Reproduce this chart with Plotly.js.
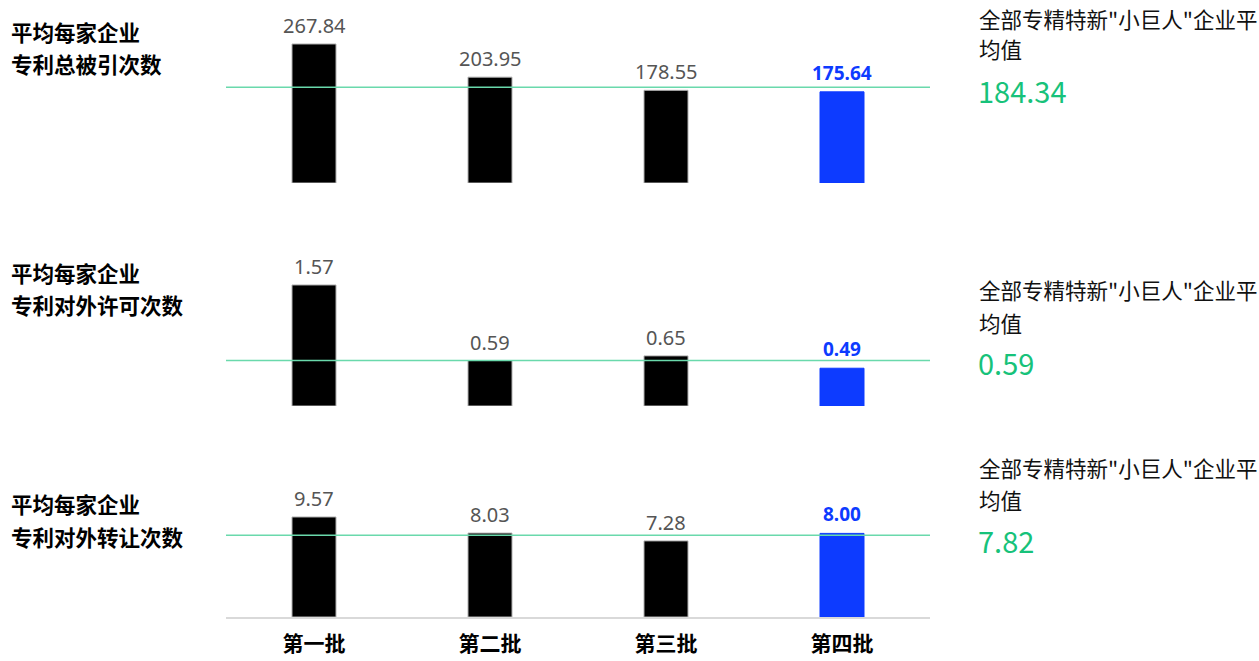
<!DOCTYPE html>
<html>
<head>
<meta charset="utf-8">
<script src="https://cdn.plot.ly/plotly-3.0.1.min.js"></script>
<style>html,body{margin:0;padding:0;background:#fff;}#chart{width:1259px;height:661px;}</style>
</head>
<body>
<div id="chart"></div>
<script>
const categories = ['第一批', '第二批', '第三批', '第四批'];
const citations = [267.84, 203.95, 178.55, 175.64];
const licenses = [1.57, 0.59, 0.65, 0.49];
const transfers = [9.57, 8.03, 7.28, 8.00];
const averages = [184.34, 0.59, 7.82];
const metricLine1 = ['平均每家企业', '平均每家企业', '平均每家企业'];
const metricLine2 = ['专利总被引次数', '专利对外许可次数', '专利对外转让次数'];
const avgCaption1 = '全部专精特新"小巨人"企业平';
const avgCaption2 = '均值';
const highlightIndex = 3;

const W = 1259, H = 661, L = 226, R = 329;
const PW = W - L - R;
const px = x => (x - L) / PW;
const py = y => (H - y) / H;

const series = [citations, licenses, transfers];
const panels = [
  {top: 0, bottom: 183, range: 352.6, titleY: [31, 63], capY: [18, 49, 90]},
  {top: 230, bottom: 406, range: 2.283, titleY: [272, 305], capY: [289, 322, 362]},
  {top: 450, bottom: 617, range: 15.98, titleY: [503, 536], capY: [467, 499, 540]}
];
const yNames = ['y', 'y2', 'y3'];
const black = '#000000', blue = '#0d3bff', gray = '#555555', green = '#17c27a', lineGreen = '#6ad9ac';
const cjk = 'Noto Sans CJK SC, sans-serif';

const traces = series.map((vals, k) => ({
  type: 'bar',
  x: categories,
  y: vals,
  xaxis: 'x',
  yaxis: yNames[k],
  marker: {
    color: vals.map((v, i) => i === highlightIndex ? blue : black),
    line: {color: vals.map((v, i) => i === highlightIndex ? blue : '#b0b0b0'), width: 1}
  },
  hoverinfo: 'skip',
  showlegend: false
}));

const annotations = [];
const shapes = [];
series.forEach((vals, k) => {
  vals.forEach((v, i) => {
    const hi = i === highlightIndex;
    annotations.push({
      x: categories[i], y: v, xref: 'x', yref: yNames[k],
      text: hi ? '<b>' + v.toFixed(2) + '</b>' : v.toFixed(2),
      showarrow: false, yanchor: 'bottom', yshift: hi ? 4 : 3,
      font: {family: 'Noto Sans, sans-serif', size: hi ? 19 : 20, color: hi ? blue : gray}
    });
  });
  const p = panels[k];
  annotations.push({xref: 'paper', yref: 'paper', x: px(9), y: py(p.titleY[0]), xanchor: 'left', yanchor: 'middle',
    text: '<b>' + metricLine1[k] + '</b>', showarrow: false,
    font: {family: cjk, size: 21.5, color: '#000'}});
  annotations.push({xref: 'paper', yref: 'paper', x: px(9), y: py(p.titleY[1]), xanchor: 'left', yanchor: 'middle',
    text: '<b>' + metricLine2[k] + '</b>', showarrow: false,
    font: {family: cjk, size: 21.5, color: '#000'}});
  annotations.push({xref: 'paper', yref: 'paper', x: px(977), y: py(p.capY[0]), xanchor: 'left', yanchor: 'middle',
    text: avgCaption1, showarrow: false,
    font: {family: cjk, size: 21.5, color: '#111'}});
  annotations.push({xref: 'paper', yref: 'paper', x: px(977), y: py(p.capY[1]), xanchor: 'left', yanchor: 'middle',
    text: avgCaption2, showarrow: false,
    font: {family: cjk, size: 21.5, color: '#111'}});
  annotations.push({xref: 'paper', yref: 'paper', x: px(976), y: py(p.capY[2]), xanchor: 'left', yanchor: 'middle',
    text: averages[k].toFixed(2), showarrow: false,
    font: {family: 'Noto Sans CJK SC, Noto Sans, sans-serif', size: 29, color: green}});
  shapes.push({type: 'line', xref: 'paper', yref: yNames[k], x0: 0, x1: 1, y0: averages[k], y1: averages[k],
    line: {color: lineGreen, width: 1.5}, layer: 'above'});
});

const layout = {
  width: W, height: H,
  margin: {l: L, r: R, t: 0, b: 0},
  paper_bgcolor: '#fff', plot_bgcolor: 'rgba(0,0,0,0)',
  bargap: 0.75,
  showlegend: false,
  xaxis: {
    anchor: 'y3', domain: [0, 1], type: 'category',
    showline: true, linecolor: '#d9d9d9', linewidth: 1.5,
    showgrid: false, zeroline: false,
    ticks: 'outside', ticklen: 7, tickcolor: 'rgba(0,0,0,0)',
    tickfont: {family: cjk, size: 21, color: '#000', weight: 'bold'},
    fixedrange: true
  },
  annotations: annotations,
  shapes: shapes
};
panels.forEach((p, k) => {
  const key = k === 0 ? 'yaxis' : 'yaxis' + (k + 1);
  layout[key] = {
    anchor: 'x', domain: [py(p.bottom), py(p.top)], range: [0, p.range],
    visible: false, showgrid: false, zeroline: false, fixedrange: true
  };
});

Plotly.newPlot('chart', traces, layout, {displayModeBar: false, staticPlot: true});
</script>
</body>
</html>
